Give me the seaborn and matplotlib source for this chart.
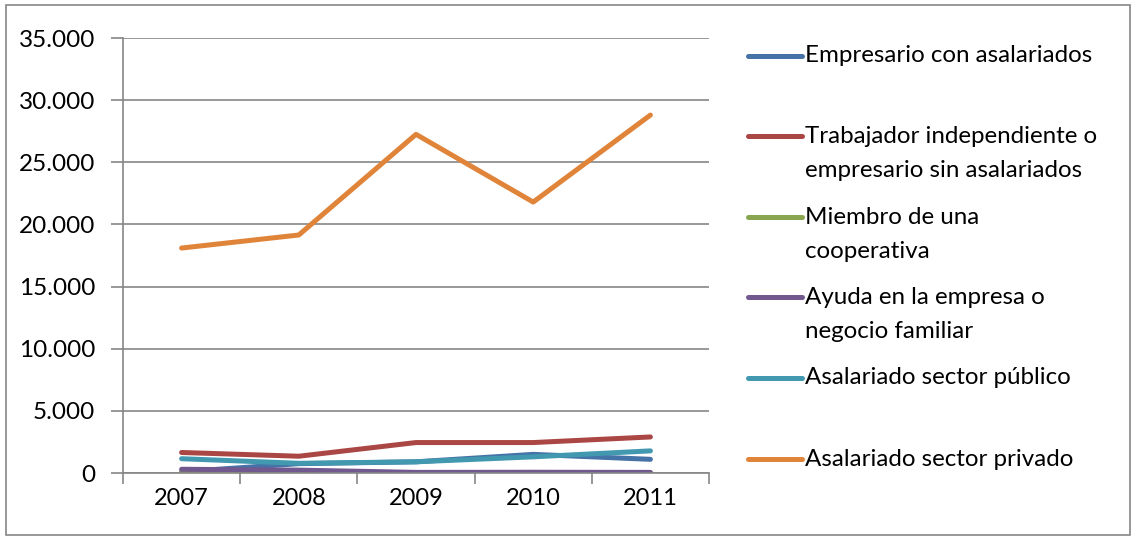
import pandas as pd
import numpy as np
import matplotlib
matplotlib.use('Agg')
import matplotlib.pyplot as plt
import seaborn as sns
from matplotlib.lines import Line2D
from matplotlib.patches import Rectangle
from matplotlib.ticker import FuncFormatter

years = ['2007', '2008', '2009', '2010', '2011']
series = [
    'Empresario con asalariados',
    'Trabajador independiente o\nempresario sin asalariados',
    'Miembro de una\ncooperativa',
    'Ayuda en la empresa o\nnegocio familiar',
    'Asalariado sector público',
    'Asalariado sector privado',
]
empresario = [100, 750, 900, 1500, 1100]
independiente = [1650, 1350, 2450, 2450, 2900]
cooperativa = [30, 20, 20, 20, 20]
ayuda = [300, 230, 50, 60, 50]
publico = [1150, 780, 900, 1300, 1780]
privado = [18100, 19150, 27250, 21800, 28800]
colors = ['#4572A7', '#AA4643', '#89A54E', '#71588F', '#4198AF', '#E0843A']

values = [empresario, independiente, cooperativa, ayuda, publico, privado]
df = pd.DataFrame({
    'x': np.tile(np.arange(len(years)), len(series)),
    'value': np.concatenate(values),
    'serie': np.repeat(series, len(years)),
})

sns.set_theme(style='white')
plt.rcParams['font.family'] = ['Lato', 'DejaVu Sans']
plt.rcParams['font.size'] = 17
plt.rcParams['text.color'] = 'black'
plt.rcParams['xtick.color'] = 'black'
plt.rcParams['ytick.color'] = 'black'

W, H = 1131, 536
fig = plt.figure(figsize=(W / 100, H / 100), dpi=100)
ax = fig.add_axes([123 / W, (H - 473) / H, 586 / W, 435 / H])

sns.lineplot(data=df, x='x', y='value', hue='serie', hue_order=series,
             palette=colors, linewidth=3.6, legend=False, ax=ax,
             solid_capstyle='round')

grey = '#868686'
ax.set_xlim(-0.5, len(years) - 0.5)
ax.set_ylim(0, 35000)
ax.set_yticks(np.arange(0, 35001, 5000))
ax.yaxis.set_major_formatter(FuncFormatter(lambda v, p: f'{int(v):,}'.replace(',', '.')))
ax.set_xticks(np.arange(-0.5, len(years), 1.0))
ax.set_xticklabels([])
ax.set_xticks(np.arange(len(years)), minor=True)
ax.set_xticklabels(years, minor=True)
ax.tick_params(axis='x', which='major', length=8, color=grey, width=1.2, direction='out', bottom=True)
ax.tick_params(axis='x', which='minor', length=0, pad=11, labelsize=17, labelcolor='black')
ax.tick_params(axis='y', length=9, color=grey, width=1.2, direction='out', left=True, pad=11,
               labelsize=17.5, labelcolor='black')
ax.grid(axis='y', color=grey, linewidth=1.2)
ax.set_axisbelow(True)
for s in ['top', 'right']:
    ax.spines[s].set_visible(False)
for s in ['left', 'bottom']:
    ax.spines[s].set_color(grey)
    ax.spines[s].set_linewidth(1.2)
ax.set_xlabel('')
ax.set_ylabel('')

# legend, Excel style: handle on the first line of each label
row_y = [56, 136, 217, 297, 378, 459]
for lab, col, yp in zip(series, colors, row_y):
    fig.add_artist(Line2D([748 / W, 802 / W], [1 - yp / H, 1 - yp / H],
                          color=col, linewidth=3.6, solid_capstyle='round'))
    for j, line in enumerate(lab.split('\n')):
        fig.text(805 / W, 1 - (yp + j * 34) / H, line, va='center', ha='left',
                 fontsize=17.4, color='black')

fig.add_artist(Rectangle((5.5 / W, 1 / H), 1124 / W, 530 / H, fill=False,
                         edgecolor=grey, linewidth=1.2, transform=fig.transFigure))

fig.savefig('out.png', dpi=100)
